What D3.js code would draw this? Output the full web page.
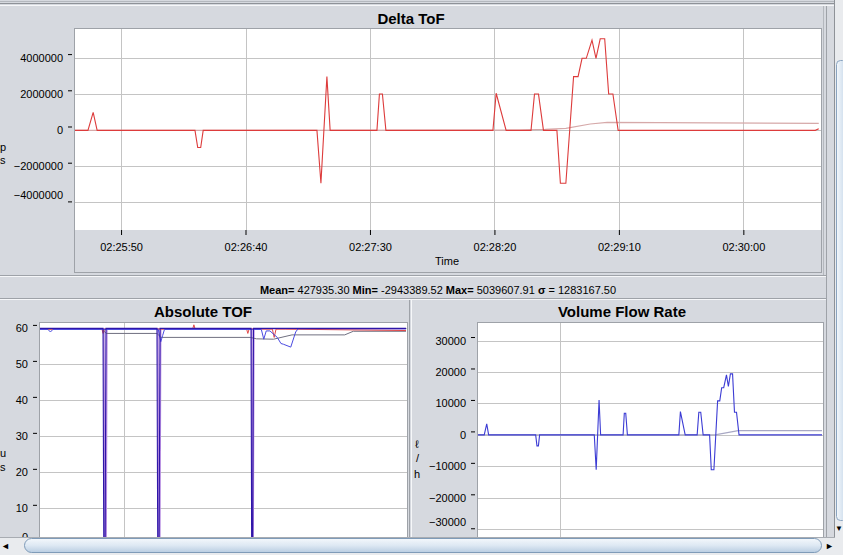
<!DOCTYPE html>
<html><head><meta charset="utf-8">
<script src="https://cdn.jsdelivr.net/npm/d3@7"></script>
<style>
body{margin:0;overflow:hidden;background:#d6d9df}
svg{display:block}
text{font-family:"Liberation Sans",Arial,sans-serif;fill:#000}
</style></head><body>
<svg id="c" width="843" height="555"></svg>
<script>
// ---------- DATA (time = seconds after 02:25:00) ----------
const deltaTimeSec = [31.5,36.7,38.8,40.4,79.7,80.8,82.0,83.0,128.7,130.3,132.7,134.0,152.8,153.8,155.0,156.4,199.4,200.7,204.7,214.7,216.1,217.7,219.7,225.1,226.5,228.7,231.8,233.6,235.2,236.9,239.2,240.8,242.5,244.3,245.9,247.6,249.7,328.9,330.3];
const deltaTof = [-20000,-20000,970000,-20000,-20000,-970000,-970000,-20000,-20000,-2943390,2950000,-20000,-20000,1990000,1990000,-20000,-20000,2030000,-20000,-20000,1990000,1990000,-20000,-20000,-2943390,-2943390,2950000,2950000,3960000,3960000,4970000,3960000,5039610,5039610,1990000,1990000,-20000,-20000,70000];
const deltaMeanTimeSec = [31.5,210.0,220.4,228.7,238.5,245.3,330.3];
const deltaMean = [-20000,-10000,30000,94000,331000,425000,370000];

const volumeFlow = [0,0,3500,0,0,-3500,-3500,0,0,-11100,11100,0,0,6900,6900,0,0,7400,0,0,7200,7200,0,0,-11100,-11100,10800,10800,15000,15000,19100,15400,19400,19400,7200,7200,0,0,0];
const volMeanTimeSec = [31.5,229.7,249.0,330.3];
const volMean = [0,0,1370,1370];

const absNavyTimeSec = [31.5,82.9,83.5,84.6,85.3,126.9,127.5,128.6,129.4,203.6,204.1,204.9,205.6,330.8];
const absNavy = [60.0,60.0,0,0,60.0,60.0,0,0,60.0,60.0,0,0,60.0,60.0];
const absLavTimeSec = [31.5,83.6,84.4,85.4,86.0,127.7,128.4,129.2,129.9,204.2,204.7,205.3,205.9,330.8];
const absLav = [59.9,59.9,0,0,59.9,59.9,0,0,59.9,59.9,0,0,59.9,59.9];
const absGrayTimeSec = [31.5,82.0,85.5,127.0,130.0,203.0,208.0,222.0,237.0,280.0,287.0,330.8];
const absGray = [59.8,59.8,58.6,58.6,57.5,57.5,57.1,57.0,58.2,58.2,59.2,59.2];
const absRedTimeSec = [31.5,82.0,83.0,84.0,156.0,157.0,158.0,200.0,201.0,202.0,221.0,222.5,224.0,232.0,330.8];
const absRed = [59.8,59.8,58.6,59.8,59.8,61.0,59.8,59.8,58.6,59.8,59.8,57.5,59.8,59.8,59.4];
const absBlueTimeSec = [31.5,38.0,40.0,42.0,128.0,130.0,131.5,133.0,205.0,212.0,214.0,216.0,219.0,225.0,228.0,230.0,236.0,240.0,242.0,330.8];
const absBlue = [59.7,59.7,59.0,59.7,59.7,56.3,58.0,59.7,59.7,59.7,57.0,59.3,59.3,57.5,55.8,55.6,54.8,59.0,59.9,59.9];

const deltaYTicks = [4000000,2000000,0,-2000000,-4000000];
const volYTicks = [30000,20000,10000,0,-10000,-20000,-30000];
const absYTicks = [60,50,40,30,20,10,0];
const timeTickSec = [50,100,150,200,250,300];
const bottomGridSec = [100];
const statsParts = [["Mean=",true],[" 427935.30 ",false],["Min=",true],[" -2943389.52 ",false],["Max=",true],[" 5039607.91 ",false],["σ",true],[" = 1283167.50",false]];

// ---------- HELPERS ----------
const base = new Date(2020,0,1,2,25,0);
const T = s => new Date(base.getTime() + s*1000);
const svg = d3.select("#c");
const BG = "#d6d9df";
svg.append("rect").attr("width",843).attr("height",555).attr("fill",BG);

// window top chrome
svg.append("line").attr("x1",0).attr("x2",843).attr("y1",1.5).attr("y2",1.5).attr("stroke","#b4b8be");
svg.append("line").attr("x1",0).attr("x2",835).attr("y1",3.5).attr("y2",3.5).attr("stroke","#8e9298");
svg.append("line").attr("x1",0).attr("x2",835).attr("y1",5.5).attr("y2",5.5).attr("stroke","#f6f7f9");

function line(g, xs, ys, times, vals, color, width){
  const gen = d3.line().x((d,i)=>xs(T(times[i]))).y(d=>ys(d));
  g.append("path").datum(vals).attr("d",gen).attr("fill","none")
   .attr("stroke",color).attr("stroke-width",width||1).attr("stroke-linejoin","miter");
}

function yAxis(g, y, ticks, axX, fmt, lastShift){
  const ax = d3.axisLeft(y).tickValues(ticks).tickSize(4).tickPadding(5).tickFormat(fmt);
  const a = g.append("g").attr("transform",`translate(${axX},0)`).call(ax);
  a.select(".domain").remove();
  a.selectAll(".tick line").attr("stroke","#000").attr("transform","translate(0,-3.5)");
  a.selectAll(".tick text").attr("font-size",11).attr("fill","#000")
    .attr("font-family","'Liberation Sans',Arial,sans-serif");
  if(lastShift){
    a.selectAll(".tick").filter(d=>d===ticks[ticks.length-1]).select("text").attr("dy","-0.32em");
    a.selectAll(".tick").filter(d=>d===ticks[ticks.length-1]).select("line").attr("transform","translate(0,-1)");
  }
  return a;
}

// ================= TOP CHART: Delta ToF =================
{
  const L=75,R=821,Tp=29,B=230;
  const x = d3.scaleTime().domain([T(31.5),T(331.2)]).range([L,R]);
  const y = d3.scaleLinear().domain([-5525000,5580000]).range([B,Tp]);
  svg.append("text").attr("x",411).attr("y",24).attr("text-anchor","middle")
    .attr("font-size",15).attr("font-weight","bold").text("Delta ToF");
  svg.append("rect").attr("x",L).attr("y",Tp).attr("width",R-L).attr("height",B-Tp).attr("fill","#fff");
  const g = svg.append("g");
  g.selectAll("line.hg").data(deltaYTicks).join("line").attr("x1",L).attr("x2",R)
    .attr("y1",d=>Math.round(y(d))+0.5).attr("y2",d=>Math.round(y(d))+0.5).attr("stroke","#c4c4c4");
  g.selectAll("line.vg").data(timeTickSec).join("line")
    .attr("x1",d=>Math.round(x(T(d)))+0.5).attr("x2",d=>Math.round(x(T(d)))+0.5)
    .attr("y1",Tp).attr("y2",B).attr("stroke","#c4c4c4");
  svg.append("clipPath").attr("id","c1").append("rect").attr("x",L).attr("y",Tp).attr("width",R-L-2).attr("height",B-Tp);
  const dg = svg.append("g").attr("clip-path","url(#c1)");
  line(dg,x,y,deltaMeanTimeSec,deltaMean,"#d6a9a9",1.2);
  line(dg,x,y,deltaTimeSec,deltaTof,"#dd3b3b",1.1);
  svg.append("rect").attr("x",74.5).attr("y",28.5).attr("width",747).attr("height",244)
    .attr("fill","none").attr("stroke","#9ea2a8");
  yAxis(svg,y,deltaYTicks,72,d3.format("d"),true);
  const xa = svg.append("g").attr("transform",`translate(0,${B})`)
    .call(d3.axisBottom(x).tickValues(timeTickSec.map(T)).tickSize(5).tickPadding(8).tickFormat(d3.timeFormat("%H:%M:%S")));
  xa.select(".domain").remove();
  xa.selectAll(".tick line").attr("stroke","#000");
  xa.selectAll(".tick text").attr("font-size",11).attr("fill","#000").attr("font-family","'Liberation Sans',Arial,sans-serif");
  svg.append("text").attr("x",447).attr("y",265).attr("text-anchor","middle").attr("font-size",11).text("Time");
  svg.append("text").attr("x",0).attr("y",151).attr("font-size",11).text("p");
  svg.append("text").attr("x",0).attr("y",164).attr("font-size",11).text("s");
}

// ---- stats bar ----
svg.append("line").attr("x1",0).attr("x2",826).attr("y1",275.5).attr("y2",275.5).attr("stroke","#9ea2a8");
svg.append("line").attr("x1",0).attr("x2",826).attr("y1",276.5).attr("y2",276.5).attr("stroke","#f6f7f9");
svg.append("line").attr("x1",0).attr("x2",826).attr("y1",298.5).attr("y2",298.5).attr("stroke","#9ea2a8");
svg.append("line").attr("x1",0).attr("x2",826).attr("y1",299.5).attr("y2",299.5).attr("stroke","#f6f7f9");
{
  const t = svg.append("text").attr("x",438).attr("y",294).attr("text-anchor","middle").attr("font-size",11);
  statsParts.forEach(p=>t.append("tspan").attr("font-weight",p[1]?"bold":"normal").text(p[0]));
}

// panel separators
svg.append("line").attr("x1",409.5).attr("x2",409.5).attr("y1",300).attr("y2",537).attr("stroke","#9ea2a8");
svg.append("line").attr("x1",411.5).attr("x2",411.5).attr("y1",300).attr("y2",537).attr("stroke","#f6f7f9");
svg.append("line").attr("x1",826.5).attr("x2",826.5).attr("y1",6).attr("y2",537).attr("stroke","#9ea2a8");
svg.append("line").attr("x1",823.5).attr("x2",823.5).attr("y1",6).attr("y2",275).attr("stroke","#b4b8be");

// ================= BOTTOM LEFT: Absolute TOF =================
{
  const L=40,R=407,Tp=323,B=549.7;
  const x = d3.scaleTime().domain([T(31.5),T(330.8)]).range([L,R]);
  const y = d3.scaleLinear().domain([-1.5,61.5]).range([B,Tp]);
  svg.append("text").attr("x",203).attr("y",317).attr("text-anchor","middle")
    .attr("font-size",15).attr("font-weight","bold").text("Absolute TOF");
  svg.append("rect").attr("x",L).attr("y",Tp).attr("width",R-L).attr("height",B-Tp).attr("fill","#fff");
  svg.selectAll("line.ahg").data(absYTicks).join("line").attr("x1",L).attr("x2",R)
    .attr("y1",d=>Math.round(y(d))+0.5).attr("y2",d=>Math.round(y(d))+0.5).attr("stroke","#c4c4c4");
  svg.selectAll("line.avg").data(bottomGridSec).join("line")
    .attr("x1",d=>Math.round(x(T(d)))+0.5).attr("x2",d=>Math.round(x(T(d)))+0.5)
    .attr("y1",Tp).attr("y2",B).attr("stroke","#c4c4c4");
  svg.append("clipPath").attr("id","c2").append("rect").attr("x",L).attr("y",Tp).attr("width",R-L-1).attr("height",B-Tp);
  const dg = svg.append("g").attr("clip-path","url(#c2)");
  line(dg,x,y,absLavTimeSec,absLav,"#b48ae0",1.6);
  line(dg,x,y,absGrayTimeSec,absGray,"#707080",1);
  line(dg,x,y,absRedTimeSec,absRed,"#e04848",1);
  line(dg,x,y,absBlueTimeSec,absBlue,"#4a4ae0",1);
  line(dg,x,y,absNavyTimeSec,absNavy,"#2e16a8",1.1);
  svg.append("rect").attr("x",39.5).attr("y",322.5).attr("width",368).attr("height",240)
    .attr("fill","none").attr("stroke","#9ea2a8");
  yAxis(svg,y,absYTicks,37,d3.format("d"),true);
  svg.append("text").attr("x",0).attr("y",457).attr("font-size",11).text("u");
  svg.append("text").attr("x",0).attr("y",471).attr("font-size",11).text("s");
}

// ================= BOTTOM RIGHT: Volume Flow Rate =================
{
  const L=478,R=823,Tp=323,B=545;
  const x = d3.scaleTime().domain([T(31.5),T(319.9)]).range([L,R]);
  const y = d3.scaleLinear().domain([-35000,35570]).range([B,Tp]);
  svg.append("text").attr("x",622).attr("y",317).attr("text-anchor","middle")
    .attr("font-size",15).attr("font-weight","bold").text("Volume Flow Rate");
  svg.append("rect").attr("x",L).attr("y",Tp).attr("width",R-L).attr("height",B-Tp).attr("fill","#fff");
  svg.selectAll("line.vhg").data(volYTicks).join("line").attr("x1",L).attr("x2",R)
    .attr("y1",d=>Math.round(y(d))+0.5).attr("y2",d=>Math.round(y(d))+0.5).attr("stroke","#c4c4c4");
  svg.selectAll("line.vvg").data(bottomGridSec).join("line")
    .attr("x1",d=>Math.round(x(T(d)))+0.5).attr("x2",d=>Math.round(x(T(d)))+0.5)
    .attr("y1",Tp).attr("y2",B).attr("stroke","#c4c4c4");
  svg.append("clipPath").attr("id","c3").append("rect").attr("x",L).attr("y",Tp).attr("width",R-L-1).attr("height",B-Tp);
  const dg = svg.append("g").attr("clip-path","url(#c3)");
  line(dg,x,y,volMeanTimeSec,volMean,"#a8a8c4",1.2);
  line(dg,x,y,deltaTimeSec,volumeFlow,"#3c3cd4",1.1);
  svg.append("rect").attr("x",477.5).attr("y",322.5).attr("width",346).attr("height",240)
    .attr("fill","none").attr("stroke","#9ea2a8");
  yAxis(svg,y,volYTicks,475,d3.format("d"),true);
  svg.append("text").attr("x",415).attr("y",448).attr("font-size",11).text("ℓ");
  svg.append("text").attr("x",416).attr("y",462).attr("font-size",11).text("/");
  svg.append("text").attr("x",414).attr("y",478).attr("font-size",11).text("h");
}

// ---------- scrollbars ----------
{
  const defs = svg.append("defs");
  const gr = defs.append("linearGradient").attr("id","sb").attr("x1",0).attr("x2",0).attr("y1",0).attr("y2",1);
  gr.append("stop").attr("offset","0").attr("stop-color","#f4f8fc");
  gr.append("stop").attr("offset","0.5").attr("stop-color","#dde8f3");
  gr.append("stop").attr("offset","1").attr("stop-color","#b9cde2");
  const gv = defs.append("linearGradient").attr("id","sbv").attr("x1",0).attr("x2",1).attr("y1",0).attr("y2",0);
  gv.append("stop").attr("offset","0").attr("stop-color","#f4f8fc");
  gv.append("stop").attr("offset","1").attr("stop-color","#c4d6e8");
  svg.append("rect").attr("x",835).attr("y",0).attr("width",8).attr("height",555).attr("fill","#e9ebee");
  svg.append("line").attr("x1",834.5).attr("x2",834.5).attr("y1",0).attr("y2",555).attr("stroke","#8e9298");
  svg.append("rect").attr("x",836.5).attr("y",60.5).attr("width",10).attr("height",460).attr("rx",4)
    .attr("fill","url(#sbv)").attr("stroke","#8aa4c0");
  svg.append("text").attr("x",835).attr("y",531).attr("font-size",8).attr("fill","#333").text("▼");
  svg.append("rect").attr("x",0).attr("y",537).attr("width",835).attr("height",18).attr("fill","#e9ebee");
  svg.append("line").attr("x1",0).attr("x2",835).attr("y1",537.5).attr("y2",537.5).attr("stroke","#a8acb2");
  svg.append("rect").attr("x",24.5).attr("y",538.5).attr("width",797).attr("height",14).attr("rx",7)
    .attr("fill","url(#sb)").attr("stroke","#7f9bb8");
  svg.append("text").attr("x",1).attr("y",549).attr("font-size",9).attr("fill","#333").text("◄");
  svg.append("text").attr("x",825).attr("y",549).attr("font-size",9).attr("fill","#333").text("►");
}
</script></body></html>
